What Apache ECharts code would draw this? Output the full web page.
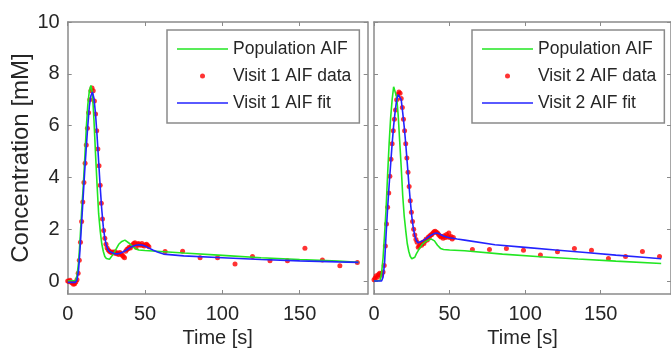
<!DOCTYPE html>
<html>
<head>
<meta charset="utf-8">
<script src="https://cdn.jsdelivr.net/npm/echarts@6.0.0/dist/echarts.min.js"></script>
<style>
  html, body { margin: 0; padding: 0; background: #fff; }
  #chart { width: 671px; height: 360px; }
</style>
</head>
<body>
<div id="chart"></div>
<script>
// tick labels
const xTicks = [0, 50, 100, 150];
const yTicks = [0, 2, 4, 6, 8, 10];

// sample times: dense first-pass phase, then sparse late frames
const denseT = [0, 0.75, 1.5, 2.25, 3, 3.75, 4.5, 5.25, 6, 6.75, 7.5, 8.25, 9, 9.75, 10.5, 11.25, 12, 12.75, 13.5, 14.25,
  15, 15.75, 16.5, 17.25, 18, 18.75, 19.5, 20.25, 21, 21.75, 22.5, 23.25, 24, 24.75, 25.5, 26.25, 27, 27.75, 28.5, 29.25,
  30, 30.75, 31.5, 32.25, 33, 33.75, 34.5, 35.25, 36, 36.75, 37.5, 38.25, 39, 39.75, 40.5, 41.25, 42, 42.75, 43.5, 44.25,
  45, 45.75, 46.5, 47.25, 48, 48.75, 49.5, 50.25, 51, 51.75, 52.5];
const sparseT1 = [63, 74.3, 85.6, 96.9, 108.2, 119.5, 130.8, 142.1, 153.4, 164.7, 176, 187.3];
const sparseT2 = [65.1, 76.4, 87.6, 98.9, 110.1, 121.4, 132.6, 143.9, 155.1, 166.4, 177.6, 188.9];

// visit 1 (left panel)
const popT1 = [0, 5, 6, 7, 8, 9, 10, 11, 12, 13, 14, 15, 16, 17, 18, 19, 20, 21, 22, 23, 24, 25, 26, 27, 28, 29, 30, 31, 33, 35, 37, 38, 40, 42, 44, 46, 50, 55, 60, 75, 100, 125, 150, 175, 188];
const popC1 = [0, 0.02, 0.2, 0.7, 1.6, 2.7, 3.6, 4.7, 5.9, 6.8, 7.35, 7.55, 7.25, 6.2, 4.9, 3.7, 2.6, 1.95, 1.45, 1.15, 0.95, 0.87, 0.84, 0.84, 0.9, 1.0, 1.1, 1.2, 1.42, 1.53, 1.58, 1.57, 1.45, 1.33, 1.24, 1.2, 1.18, 1.16, 1.14, 1.08, 0.99, 0.9, 0.83, 0.77, 0.72];

const denseC1 = [0, -0.02, 0.03, -0.05, -0.08, -0.12, -0.1, -0.04, 0.05, 0.3, 0.8, 1.5, 2.3, 3.05, 3.8, 4.55, 5.25, 5.9, 6.5, 7.0,
  7.35, 7.45, 7.35, 6.95, 6.45, 5.8, 5.1, 4.45, 3.7, 3.0, 2.4, 1.95, 1.65, 1.42, 1.28, 1.2, 1.15, 1.12, 1.1, 1.12,
  1.08, 1.13, 1.05, 1.08, 1.02, 1.1, 1.05, 1.0, 0.95, 0.9, 1.15, 1.22, 1.25, 1.3, 1.28, 1.35, 1.4, 1.45, 1.48, 1.3,
  1.42, 1.45, 1.4, 1.38, 1.45, 1.38, 1.35, 1.4, 1.42, 1.37, 1.32];
const sparseC1 = [1.14, 1.15, 0.9, 0.9, 0.66, 0.95, 0.78, 0.78, 1.27, 0.81, 0.59, 0.72];

const fitT1 = [0, 5, 6, 7, 8, 9, 10, 11, 12, 13, 14, 15, 16, 17, 18, 19, 20, 21, 22, 23, 24, 25, 26, 27, 28, 30, 32, 34, 36, 38, 40, 42, 44, 46, 48, 50, 52, 55, 58, 62, 75, 100, 125, 150, 175, 188];
const fitC1 = [-0.05, -0.05, 0.05, 0.4, 1.25, 2.25, 3.25, 4.25, 5.15, 6.0, 6.75, 7.15, 7.3, 7.05, 6.45, 5.6, 4.62, 3.65, 2.78, 2.1, 1.65, 1.38, 1.22, 1.14, 1.1, 1.06, 1.05, 1.07, 1.13, 1.2, 1.28, 1.34, 1.38, 1.4, 1.39, 1.35, 1.29, 1.2, 1.12, 1.04, 0.97, 0.9, 0.83, 0.78, 0.74, 0.72];

// visit 2 (right panel)
const popT2 = [0, 4, 5, 6, 7, 8, 9, 10, 11, 12, 13, 14, 15, 16, 17, 18, 19, 20, 21, 22, 23, 24, 25, 26, 27, 28, 30, 32, 34, 36, 38, 40, 42, 44, 46, 50, 60, 85, 110, 135, 160, 190];
const popC2 = [0, 0.02, 0.3, 0.9, 1.8, 2.8, 4.1, 5.3, 6.3, 7.0, 7.5, 7.5, 7.1, 6.4, 5.4, 4.4, 3.3, 2.5, 1.95, 1.45, 1.15, 0.95, 0.86, 0.85, 0.92, 1.05, 1.25, 1.42, 1.52, 1.58, 1.62, 1.55, 1.38, 1.26, 1.22, 1.2, 1.17, 1.04, 0.94, 0.85, 0.77, 0.68];

const denseC2 = [0.05, 0.12, 0.2, 0.15, 0.25, 0.3, 0.22, 0.3, 0.35, 0.6, 1.35, 2.2, 2.85, 3.4, 4.05, 4.7, 5.3, 5.8, 6.25, 6.6,
  7.0, 7.2, 7.3, 7.25, 7.05, 6.7, 6.25, 5.8, 5.3, 4.75, 4.2, 3.65, 3.1, 2.66, 2.3, 2.0, 1.78, 1.6, 1.5, 1.3,
  1.35, 1.42, 1.38, 1.5, 1.45, 1.55, 1.62, 1.58, 1.7, 1.72, 1.78, 1.8, 1.85, 1.9, 1.92, 1.88, 1.85, 1.8, 1.75, 1.7,
  1.72, 1.65, 1.75, 1.68, 1.8, 1.7, 1.85, 1.68, 1.72, 1.62, 1.68];
const sparseC2 = [1.22, 1.22, 1.26, 1.19, 1.01, 1.13, 1.26, 1.19, 0.87, 0.95, 1.14, 0.95];

const fitT2 = [0, 5, 6, 7, 8, 9, 10, 11, 12, 13, 14, 15, 16, 17, 18, 19, 20, 21, 22, 23, 24, 25, 26, 27, 28, 29, 30, 32, 34, 36, 38, 40, 42, 44, 46, 48, 50, 52, 55, 60, 80, 100, 120, 140, 160, 180, 190];
const fitC2 = [0, 0, 0.15, 0.7, 1.8, 2.8, 3.7, 4.5, 5.3, 6.0, 6.55, 7.0, 7.2, 7.2, 7.0, 6.5, 5.95, 5.3, 4.55, 3.8, 3.1, 2.5, 2.05, 1.75, 1.57, 1.48, 1.47, 1.55, 1.62, 1.7, 1.78, 1.84, 1.85, 1.8, 1.74, 1.7, 1.67, 1.65, 1.62, 1.58, 1.40, 1.30, 1.20, 1.10, 1.0, 0.91, 0.86];

const zip = (t, c) => t.map((v, i) => [v, c[i]]);

const FONT = 'Liberation Sans, Arial, sans-serif';
const TXT = '#262626';
const FRAME = '#8a8a8a';

const chart = echarts.init(document.getElementById('chart'));

function xAxes(grid, max) {
  const base = {
    type: 'value', gridIndex: grid, min: 0, max: max,
    splitLine: { show: false },
    axisLine: { onZero: false, lineStyle: { color: FRAME, width: 1.5 } },
    axisTick: { inside: true, length: 4, customValues: xTicks, lineStyle: { color: FRAME } }
  };
  return [
    Object.assign({}, base, {
      position: 'bottom',
      axisLabel: { customValues: xTicks, color: TXT, fontSize: 20, fontFamily: FONT, margin: 10 },
      name: 'Time [s]', nameLocation: 'middle', nameGap: 34,
      nameTextStyle: { color: TXT, fontSize: 20, fontFamily: FONT }
    }),
    Object.assign({}, base, { position: 'top', axisLabel: { show: false } })
  ];
}

function yAxes(grid, labels) {
  const base = {
    type: 'value', gridIndex: grid, min: -0.5, max: 10,
    splitLine: { show: false },
    axisLine: { onZero: false, lineStyle: { color: FRAME, width: 1.5 } },
    axisTick: { inside: true, length: 4, customValues: yTicks, lineStyle: { color: FRAME } }
  };
  const left = Object.assign({}, base, {
    position: 'left',
    axisLabel: labels
      ? { customValues: yTicks, color: TXT, fontSize: 20, fontFamily: FONT, margin: 8 }
      : { show: false }
  });
  if (labels) {
    left.name = 'Concentration [mM]';
    left.nameLocation = 'middle';
    left.nameGap = 32;
    left.nameTextStyle = { color: TXT, fontSize: 24, fontFamily: FONT };
  }
  return [left, Object.assign({}, base, { position: 'right', axisLabel: { show: false } })];
}

const lineIcon = 'path://M0 0M0 6.3h51v1.5h-51zM51 14';
const dotIcon = 'path://M0 0M23 7a2.5 2.5 0 1 0 5 0a2.5 2.5 0 1 0 -5 0zM51 14';

function legend(left, v) {
  return {
    orient: 'vertical', left: left, top: 30,
    padding: [9, 8, 10, 10],
    itemWidth: 51, itemHeight: 14, itemGap: 7,
    selectedMode: false,
    borderColor: FRAME, borderWidth: 1.5,
    backgroundColor: '#fff',
    itemStyle: { borderWidth: 0 },
    textStyle: { color: TXT, fontSize: 17.5, fontFamily: FONT, lineHeight: 20 },
    data: [
      { name: 'Population AIF', icon: lineIcon },
      { name: 'Visit ' + v + ' AIF data', icon: dotIcon },
      { name: 'Visit ' + v + ' AIF fit', icon: lineIcon }
    ]
  };
}

function series(i, v, pop, dat, fit) {
  return [
    { name: 'Population AIF', type: 'line', xAxisIndex: 2 * i, yAxisIndex: 2 * i, data: pop,
      symbol: 'none', color: '#22e622', lineStyle: { width: 1.6 } },
    { name: 'Visit ' + v + ' AIF data', type: 'scatter', xAxisIndex: 2 * i, yAxisIndex: 2 * i, data: dat,
      symbol: 'circle', symbolSize: 5, color: '#ff0000' },
    { name: 'Visit ' + v + ' AIF fit', type: 'line', xAxisIndex: 2 * i, yAxisIndex: 2 * i, data: fit,
      symbol: 'none', color: '#2323ff', lineStyle: { width: 1.6 } }
  ];
}

chart.setOption({
  animation: false,
  grid: [
    { left: 67.7, top: 22, width: 300, height: 272 },
    { left: 374, top: 22, width: 305, height: 272 }
  ],
  xAxis: xAxes(0, 194).concat(xAxes(1, 196.5)),
  yAxis: yAxes(0, true).concat(yAxes(1, false)),
  legend: [legend(167, 1), legend(472, 2)],
  series: series(0, 1, zip(popT1, popC1), zip(denseT.concat(sparseT1), denseC1.concat(sparseC1)), zip(fitT1, fitC1))
    .concat(series(1, 2, zip(popT2, popC2), zip(denseT.concat(sparseT2), denseC2.concat(sparseC2)), zip(fitT2, fitC2)))
});
</script>
</body>
</html>
